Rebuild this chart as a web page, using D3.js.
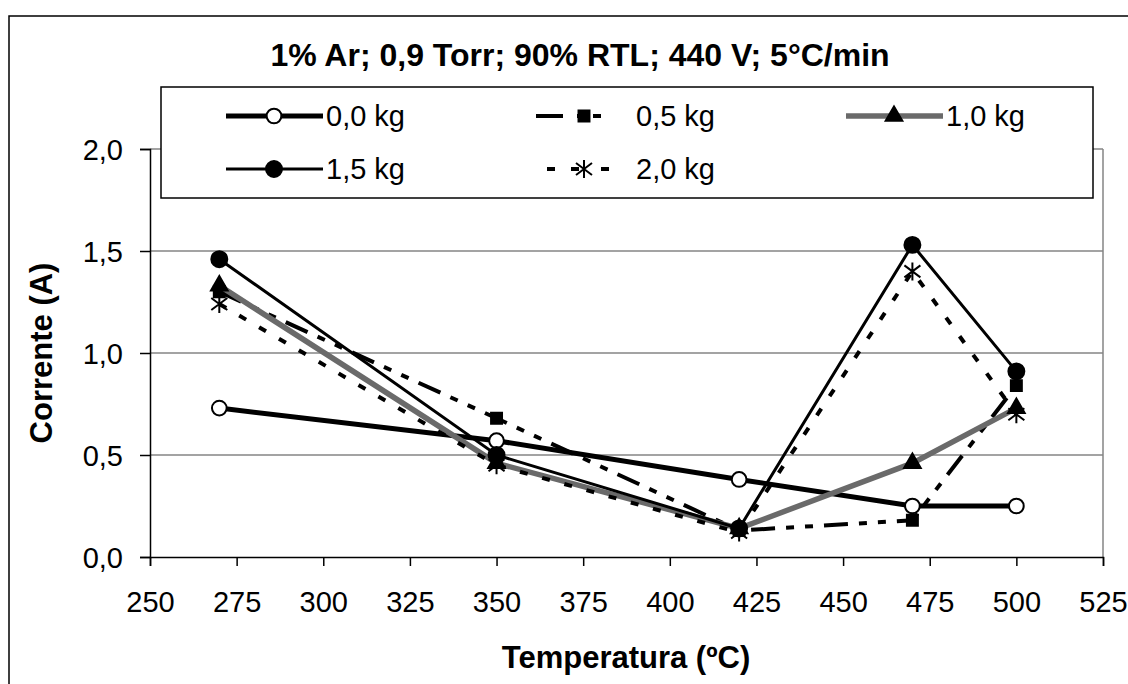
<!DOCTYPE html>
<html>
<head>
<meta charset="utf-8">
<script src="https://cdn.jsdelivr.net/npm/d3@7"></script>
<style>
    body { margin: 0; background: #fff; }
    text { font-family: 'Liberation Sans', Arial, sans-serif; }
</style>
</head>
<body>
<svg width="1128" height="684"></svg>
<script>
// dados
const temperaturas = [270, 350, 420, 470, 500];
const serie00 = [0.73, 0.57, 0.38, 0.25, 0.25];
const serie05 = [1.3, 0.68, 0.13, 0.18, 0.84];
const serie10 = [1.33, 0.46, 0.14, 0.46, 0.73];
const serie15 = [1.46, 0.5, 0.14, 1.53, 0.91];
const serie20 = [1.24, 0.45, 0.12, 1.4, 0.7];
const nomes = ['0,0 kg', '0,5 kg', '1,0 kg', '1,5 kg', '2,0 kg'];
const xTicks = [250, 275, 300, 325, 350, 375, 400, 425, 450, 475, 500, 525];
const yTicks = [0, 0.5, 1, 1.5, 2];
const titulo = '1% Ar; 0,9 Torr; 90% RTL; 440 V; 5°C/min';

const svg = d3.select('svg');

// moldura externa
svg.append('rect')
    .attr('x', 9)
    .attr('y', 16)
    .attr('width', 1140)
    .attr('height', 700)
    .attr('fill', 'none')
    .attr('stroke', '#000')
    .attr('stroke-width', 1.5);

const xScale = d3.scaleLinear().domain([250, 525]).range([150, 1103]);
const yScale = d3.scaleLinear().domain([0, 2]).range([557, 149]);

// grade
svg.append('g')
    .selectAll('line')
    .data(yTicks.filter((d) => d > 0))
    .join('line')
    .attr('x1', xScale(250))
    .attr('x2', xScale(525))
    .attr('y1', (d) => yScale(d))
    .attr('y2', (d) => yScale(d))
    .attr('stroke', '#858585')
    .attr('stroke-width', 1.5);
svg.append('line')
    .attr('x1', xScale(525))
    .attr('x2', xScale(525))
    .attr('y1', yScale(0))
    .attr('y2', yScale(2))
    .attr('stroke', '#858585')
    .attr('stroke-width', 1.5);

const fmt = (d) => d.toFixed(1).replace('.', ',');

const yAxis = svg.append('g')
    .attr('transform', `translate(${xScale(250)},0)`)
    .call(d3.axisLeft(yScale).tickValues(yTicks).tickFormat(fmt).tickSize(10).tickPadding(17));
const xAxis = svg.append('g')
    .attr('transform', `translate(0,${yScale(0)})`)
    .call(d3.axisBottom(xScale).tickValues(xTicks).tickFormat(d3.format('d')).tickSize(9).tickPadding(25));
[yAxis, xAxis].forEach((g) => {
    g.select('.domain').attr('stroke', '#000').attr('stroke-width', 1.5);
    g.selectAll('.tick line').attr('stroke', '#000').attr('stroke-width', 1.5);
    g.selectAll('.tick text')
        .attr('fill', '#000')
        .style('font-size', '29px')
        .style('font-family', "'Liberation Sans', Arial, sans-serif");
});
yAxis.selectAll('.tick text').attr('dy', '0.36em');
xAxis.selectAll('.tick text').attr('dy', '0.71em');

// estilos das series
const asterisco = 'M0,-9V9M-8,-6L8,6M-8,6L8,-6';
const series = [
    { nome: nomes[0], valores: serie00, cor: '#000', largura: 5, dash: null, legDash: null, simbolo: d3.symbolCircle, tam: 170, fill: '#fff' },
    { nome: nomes[1], valores: serie05, cor: '#000', largura: 4, dash: '24,11,8,11,8,11', legDash: '27,14,8,8,8,60', simbolo: d3.symbolSquare, tam: 120, fill: '#000' },
    { nome: nomes[2], valores: serie10, cor: '#6a6a6a', largura: 5.5, dash: null, legDash: null, simbolo: d3.symbolTriangle, tam: 120, fill: '#000' },
    { nome: nomes[3], valores: serie15, cor: '#000', largura: 3, dash: null, legDash: null, simbolo: d3.symbolCircle, tam: 200, fill: '#000' },
    { nome: nomes[4], valores: serie20, cor: '#000', largura: 4, dash: '8,15', legDash: '0,11,8,16,8,22,8,60', simbolo: null, tam: 0, fill: 'none' }
];

const lineGenerator = d3.line()
    .x((d) => xScale(d[0]))
    .y((d) => yScale(d[1]));

const desenhaMarcador = (g, s, x, y) => {
    if (s.simbolo) {
        g.append('path')
            .attr('d', d3.symbol().type(s.simbolo).size(s.tam)())
            .attr('transform', `translate(${x},${y})`)
            .attr('fill', s.fill)
            .attr('stroke', '#000')
            .attr('stroke-width', 2);
    } else {
        g.append('path')
            .attr('d', asterisco)
            .attr('transform', `translate(${x},${y})`)
            .attr('fill', 'none')
            .attr('stroke', '#000')
            .attr('stroke-width', 2);
    }
};

series.forEach((s) => {
    const pts = temperaturas.map((t, i) => [t, s.valores[i]]);
    const g = svg.append('g');
    g.append('path')
        .attr('d', lineGenerator(pts))
        .attr('fill', 'none')
        .attr('stroke', s.cor)
        .attr('stroke-width', s.largura)
        .attr('stroke-dasharray', s.dash);
    pts.forEach((p) => desenhaMarcador(g, s, xScale(p[0]), yScale(p[1])));
});

// legenda
svg.append('rect')
    .attr('x', 161)
    .attr('y', 87)
    .attr('width', 932)
    .attr('height', 111)
    .attr('fill', '#fff')
    .attr('stroke', '#000')
    .attr('stroke-width', 1.5);

const legX = [226, 536, 846];
const legY = [116, 169];
series.forEach((s, i) => {
    const x0 = legX[i % 3];
    const y0 = legY[Math.floor(i / 3)];
    const g = svg.append('g');
    g.append('line')
        .attr('x1', x0)
        .attr('x2', x0 + 97)
        .attr('y1', y0)
        .attr('y2', y0)
        .attr('stroke', s.cor)
        .attr('stroke-width', s.largura)
        .attr('stroke-dasharray', s.legDash);
    desenhaMarcador(g, s, x0 + 48, y0);
    g.append('text')
        .attr('x', x0 + 100)
        .attr('y', y0)
        .attr('dy', '0.36em')
        .style('font-size', '29px')
        .text(s.nome);
});

// titulos
svg.append('text')
    .attr('x', 580)
    .attr('y', 66)
    .attr('text-anchor', 'middle')
    .style('font-size', '32px')
    .style('font-weight', 'bold')
    .text(titulo);
svg.append('text')
    .attr('x', 626)
    .attr('y', 668)
    .attr('text-anchor', 'middle')
    .style('font-size', '31px')
    .style('font-weight', 'bold')
    .text('Temperatura (ºC)');
svg.append('text')
    .attr('transform', 'translate(52,353) rotate(-90)')
    .attr('text-anchor', 'middle')
    .style('font-size', '31px')
    .style('font-weight', 'bold')
    .text('Corrente (A)');
</script>
</body>
</html>
